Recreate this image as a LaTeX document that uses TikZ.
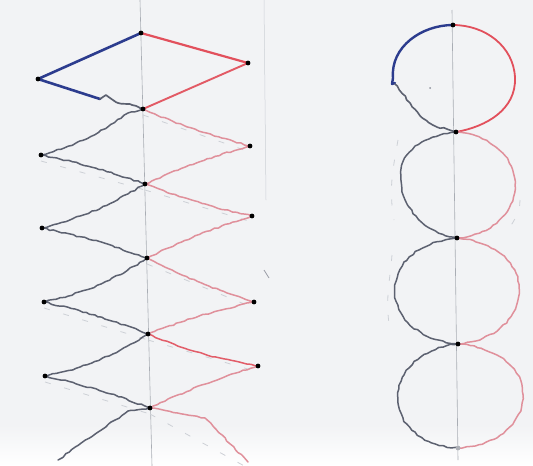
\documentclass[tikz,border=0pt]{standalone}
\usetikzlibrary{decorations.pathmorphing}
\definecolor{bgc}{HTML}{F2F3F5}
\definecolor{inkblue}{HTML}{2C3C8E}
\definecolor{inkred}{HTML}{E2505C}
\definecolor{pencil}{HTML}{5C6170}
\definecolor{pinkink}{HTML}{E0909B}
\definecolor{axisc}{HTML}{A9ADB4}
\definecolor{faint}{HTML}{CDD0D6}
\begin{document}
\begin{tikzpicture}[x=1pt,y=-1pt,
  thickblue/.style={draw=inkblue,line width=2.6pt,line cap=round,line join=round},
  thickred/.style={draw=inkred,line width=2.2pt,line cap=round,line join=round},
  greyline/.style={draw=pencil,line width=1.5pt,line cap=round,line join=round,
    decorate,decoration={random steps,segment length=4pt,amplitude=0.8pt}},
  pinkline/.style={draw=pinkink,line width=1.5pt,line cap=round,line join=round,
    decorate,decoration={random steps,segment length=4pt,amplitude=0.7pt}},
  ghost/.style={draw=faint,line width=0.8pt,dash pattern=on 6pt off 14pt},
  axisline/.style={draw=axisc,line width=0.6pt},
  vdot/.style={fill=black,circle,inner sep=0pt,minimum size=4.8pt}]
\pgfmathsetseed{11}
\useasboundingbox (0,0) rectangle (533,466);
% background
\fill[bgc] (0,0) rectangle (533,466);
\shade[top color=bgc,bottom color=white] (0,425) rectangle (533,466);
% axes
\draw[axisline] (140,0) -- (152,466);
\draw[axisline] (452,10) -- (458,460);
\draw[draw=faint,line width=0.5pt] (264,0) -- (266,200);
\draw[draw=pencil!60,line width=0.8pt] (264,270) -- (269,278);
% left diamond vertices
\coordinate (V0) at (141,33);
\coordinate (V1) at (143,109);
\coordinate (V2) at (145,184);
\coordinate (V3) at (147,258);
\coordinate (V4) at (148,334);
\coordinate (V5) at (150,408);
\coordinate (L0) at (38,79);
\coordinate (L1) at (41,155);
\coordinate (L2) at (42,228);
\coordinate (L3) at (44,302);
\coordinate (L4) at (45,376);
\coordinate (R0) at (248,63);
\coordinate (R1) at (250,146);
\coordinate (R2) at (252,216);
\coordinate (R3) at (254,302);
\coordinate (R4) at (258,366);
\coordinate (BL) at (58,460);
\coordinate (BR) at (248,462);
% ghost dashes
\foreach \a/\b in {V1/R1,V2/R2,V3/R3,V4/R4,V5/BR,L1/V2,L3/V4,L4/V5}
  \draw[ghost] ([yshift=-6pt]\a) -- ([yshift=-6pt]\b);
% top diamond
\draw[thickblue] (V0) -- (L0) -- (100,99);
\draw[greyline,line width=1.7pt] (100,99) -- (106,95) -- (118,103) -- (132,105) -- (V1);
\draw[thickred] (V0) -- (R0);
\draw[thickred,draw=inkred!85!pinkink,line width=1.9pt] (R0) -- (V1);
% lower diamonds
\draw[greyline] (V1) -- (128,113) to[bend left=10] (L1) to[bend left=4] (V2);
\draw[greyline] (V2) to[bend left=8] (L2) to[bend left=4] (V3);
\draw[greyline] (V3) to[bend left=10] (L3) to[bend left=4] (V4);
\draw[greyline] (V4) to[bend left=10] (L4) to[bend left=4] (V5);
\draw[greyline] (V5) -- (128,411) -- (BL);
\draw[pinkline] (V1) to[bend right=4] (R1) to[bend right=4] (V2);
\draw[pinkline] (V2) to[bend right=4] (R2) to[bend right=4] (V3);
\draw[pinkline] (V3) to[bend right=4] (R3) to[bend right=4] (V4);
\draw[pinkline,draw=inkred!80!pinkink] (V4) to[bend right=6] (R4);
\draw[pinkline] (R4) to[bend right=4] (V5);
\draw[pinkline] (V5) -- (205,418) -- (BR);
\foreach \p in {V0,V1,V2,V3,V4,V5,L0,L1,L2,L3,L4,R0,R1,R2,R3,R4}
  \node[vdot] at (\p) {};
% right circles
\coordinate (T1) at (453,25);
\coordinate (B1) at (456,132);
\coordinate (B2) at (457,238);
\coordinate (B3) at (458,344);
\coordinate (B4) at (458,448);
\draw[thickblue,line width=2.4pt] (T1) to[out=180,in=95] (393,78) -- (392,84) -- (395,83);
\draw[greyline,line width=1.6pt] (395,84) to[out=-50,in=170] (447,129) -- (B1);
\draw[thickred,line width=1.8pt] (T1) to[out=0,in=92] (515,78) to[out=-88,in=10] (B1);
\draw[greyline] (B1) to[out=188,in=85] (401,172) to[out=-95,in=170] (B2);
\draw[pinkline] (B1) to[out=-5,in=90] (515,185) to[out=-90,in=5] (B2);
\draw[greyline] (B2) to[out=185,in=90] (395,290) to[out=-90,in=175] (B3);
\draw[pinkline] (B2) to[out=-5,in=90] (519,290) to[out=-90,in=5] (B3);
\draw[greyline] (B3) to[out=185,in=90] (398,398) to[out=-90,in=178] (B4);
\draw[pinkline] (B3) to[out=-5,in=90] (523,395) to[out=-90,in=2] (B4);
\draw[ghost] (398,140) to[out=-100,in=100] (394,220);
\draw[ghost] (392,255) to[out=-95,in=100] (390,330);
\draw[ghost] (520,200) to[out=-90,in=60] (505,235);
\foreach \p in {T1,B1,B2,B3}
  \node[vdot] at (\p) {};
\node[vdot,fill=pencil!50] at (B4) {};
\fill[pencil!70] (430,88) circle (1pt);
\end{tikzpicture}
\end{document}
